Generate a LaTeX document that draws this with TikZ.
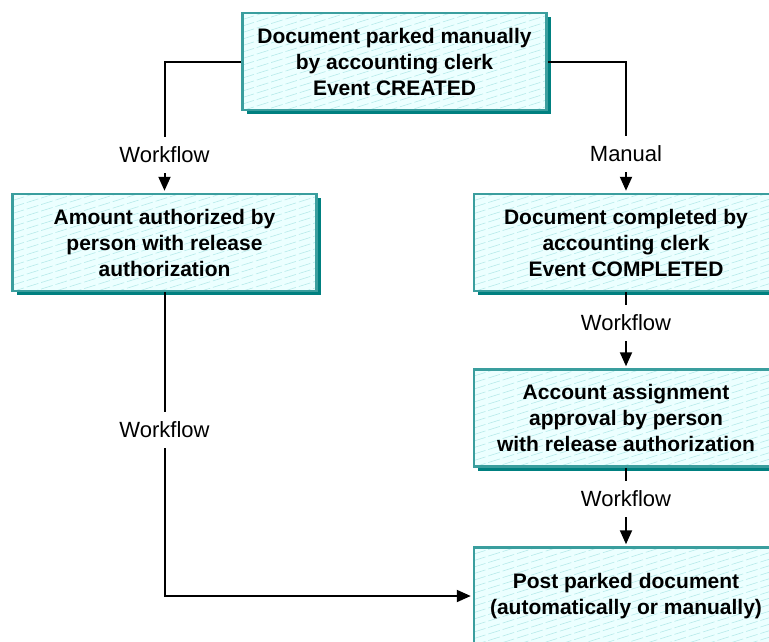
\documentclass[tikz,border=0pt]{standalone}
\usepackage{fontspec}
\setmainfont{Liberation Sans}
\usetikzlibrary{arrows.meta,shadows}
\definecolor{boxfill}{RGB}{236,255,255}
\definecolor{hatchcol}{RGB}{182,234,234}
\definecolor{boxedge}{RGB}{58,158,158}
\definecolor{boxshade}{RGB}{0,128,128}
\tikzset{
  hatchline/.style={draw=hatchcol, line width=0.6pt, dash pattern=on 12pt off 3pt},
  stepbox/.style={
    draw=boxedge, line width=2.5pt, fill=boxfill,
    minimum width=304pt, minimum height=97pt, inner sep=0pt, align=center,
    font=\bfseries\fontsize{21}{26}\selectfont,
    general shadow={fill=boxshade, shadow xshift=4pt, shadow yshift=-4pt},
    path picture={
      \foreach \k in {0,...,45}
        \draw[hatchline] ([yshift=-\k*6.5pt]path picture bounding box.north west) -- ++(400pt,125pt);
    }},
  flowlabel/.style={inner xsep=2pt, inner ysep=0pt, minimum height=36pt,
    text height=15.75pt, text depth=0pt, font=\fontsize{22}{26}\selectfont},
  link/.style={line width=2pt},
  arrowlink/.style={link, -{Triangle[width=12pt,length=14pt]}, shorten >=2pt}
}
\begin{document}
\begin{tikzpicture}[x=1pt,y=-1pt]
\clip (0,0) rectangle (769,641);
\useasboundingbox (0,0) rectangle (769,641);

% process steps
\node[stepbox] (created) at (394.5,61.5) {Document parked manually\\by accounting clerk\\Event CREATED};
\node[stepbox] (amount) at (164.5,242.5) {Amount authorized by\\person with release\\authorization};
\node[stepbox] (completed) at (626,242.5) {Document completed by\\accounting clerk\\Event COMPLETED};
\node[stepbox] (approval) at (626,418) {Account assignment\\approval by person\\with release authorization};
\node[stepbox] (post) at (626,596) {Post parked document\\(automatically or manually)};

% connector labels
\node[flowlabel] (wfA) at (164.5,155) {Workflow};
\node[flowlabel] (manual) at (626,154) {Manual};
\node[flowlabel] (wfB) at (626,323) {Workflow};
\node[flowlabel] (wfC) at (626,499) {Workflow};
\node[flowlabel] (wfD) at (164.5,430) {Workflow};

% connectors
\draw[link] (created.west) -| (wfA.north);
\draw[arrowlink] (wfA.south) -- (amount.north);
\draw[link] (created.east) -| (manual.north);
\draw[arrowlink] (manual.south) -- (completed.north);
\draw[link] (completed.south) -- (wfB.north);
\draw[arrowlink] (wfB.south) -- (approval.north);
\draw[link] (approval.south) -- (wfC.north);
\draw[arrowlink] (wfC.south) -- (post.north);
\draw[link] (amount.south) -- (wfD.north);
\draw[arrowlink] (wfD.south) |- (post.west);
\end{tikzpicture}
\end{document}
